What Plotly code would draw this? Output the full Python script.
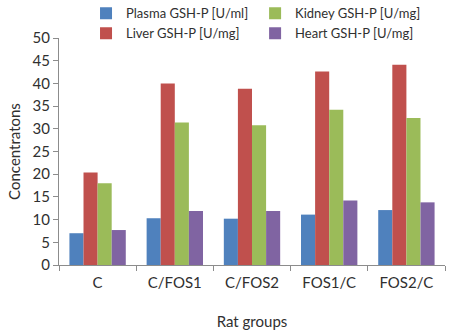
import plotly.graph_objects as go

groups = ["C", "C/FOS1", "C/FOS2", "FOS1/C", "FOS2/C"]
plasma = [7.0, 10.3, 10.2, 11.1, 12.1]
liver = [20.4, 40.0, 38.8, 42.6, 44.1]
kidney = [18.0, 31.4, 30.8, 34.2, 32.4]
heart = [7.7, 11.9, 11.9, 14.2, 13.8]

series = [
    ("Plasma GSH-P [U/ml]", plasma, "#4F81BD", "legend"),
    ("Liver GSH-P [U/mg]", liver, "#C0504D", "legend"),
    ("Kidney GSH-P [U/mg]", kidney, "#9BBB59", "legend2"),
    ("Heart GSH-P [U/mg]", heart, "#8064A2", "legend2"),
]

font_family = "Lato, Open Sans, sans-serif"
axis_color = "#8C8C8C"
text_color = "#303030"

fig = go.Figure()
for name, vals, color, leg in series:
    fig.add_trace(go.Bar(
        x=groups, y=vals, name=name, marker_color=color,
        marker_line_width=0, legend=leg,
    ))

legend_style = dict(
    orientation="v", yanchor="top", xanchor="left",
    font=dict(size=13, color=text_color, family=font_family),
    bgcolor="rgba(0,0,0,0)", itemwidth=30, tracegroupgap=0,
)

fig.update_layout(
    width=450, height=336,
    margin=dict(l=59, r=5, t=38, b=71, autoexpand=False),
    paper_bgcolor="white", plot_bgcolor="white",
    barmode="group", bargap=0.27, bargroupgap=0,
    font=dict(family=font_family, color=text_color),
    legend=dict(x=0.07, y=1.175, **legend_style),
    legend2=dict(x=0.508, y=1.175, **legend_style),
    xaxis=dict(
        showline=True, linecolor=axis_color, linewidth=1,
        ticks="outside", tickson="boundaries", ticklen=5, tickcolor=axis_color,
        tickfont=dict(size=15, color=text_color), tickangle=0, ticklabelstandoff=4,
        title=dict(text="Rat groups", font=dict(size=15, color=text_color), standoff=26),
        showgrid=False, automargin=False,
    ),
    yaxis=dict(
        range=[0, 50], dtick=5,
        showline=True, linecolor=axis_color, linewidth=1,
        ticks="outside", ticklen=5, tickcolor=axis_color,
        tickfont=dict(size=15, color=text_color),
        title=dict(text="Concentratons", font=dict(size=15, color=text_color), standoff=8),
        showgrid=False, zeroline=False, automargin=False,
    ),
)

fig.write_html("out.html")
